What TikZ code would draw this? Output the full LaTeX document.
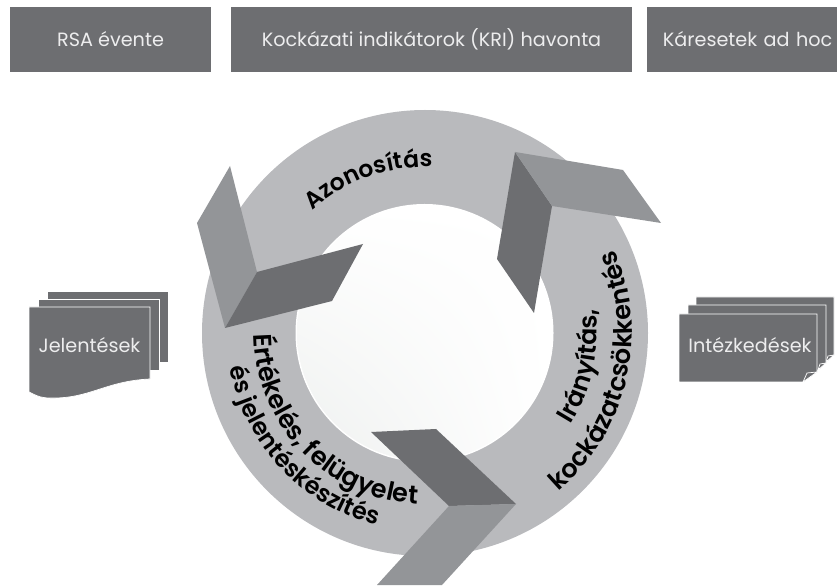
\documentclass[tikz,border=0pt]{standalone}
\usepackage{fontspec}
\setmainfont[BoldFont={Poppins SemiBold}]{Poppins}
\usetikzlibrary{decorations.text,shadings}

\definecolor{boxgray}{HTML}{6D6E71}
\definecolor{wallgray}{HTML}{939598}
\definecolor{ringgray}{HTML}{B9BABD}
\definecolor{textlight}{HTML}{EDEDEE}
\definecolor{discgray}{HTML}{EEF0EF}

\tikzset{
  head box/.style={fill=boxgray, text=textlight, minimum height=65*0.03cm, inner sep=0pt, font=\fontsize{16.4}{18}\selectfont},
  sheet/.style={fill=boxgray, draw=white, line width=0.6pt},
  sheet label/.style={text=textlight, inner sep=0pt, font=\fontsize{16.4}{18}\selectfont},
  dark side/.style={fill=boxgray},
  light side/.style={fill=wallgray},
  ring label/.style 2 args={decorate, decoration={text along path, text align=center, text={|\fontsize{#1}{24}\bfseries\selectfont|#2}}}
}

\begin{document}
\begin{tikzpicture}[x=0.03cm, y=0.03cm]
    \useasboundingbox (0,0) rectangle (837,585);

    % header boxes
    \node[head box, minimum width=201*0.03cm] (rsa) at (110.5,545.5) {RSA évente};
    \node[head box, minimum width=401*0.03cm] (kri) at (431.5,545.5) {Kockázati indikátorok (KRI) havonta};
    \node[head box, minimum width=190*0.03cm, text width=190*0.03cm, align=left] (kar) at (742,545.5) {\hspace{13.6pt}Káresetek ad hoc};

    % ring
    \fill[ringgray] (425,252) circle[radius=223];
    \fill[white] (424.5,252) circle[radius=129];
    \shade[lower left=discgray, upper right=white, upper left=white, lower right=white] (424.5,252) circle[radius=127.5];

    % arrows
    \fill[light side] (230,419) -- (197,362) -- (225,257) -- (257,313) -- cycle;
    \fill[dark side] (257,313) -- (363,341) -- (332,284) -- (225,257) -- cycle;
    \fill[dark side] (515,433) -- (497,326) -- (534,272) -- (552,379) -- cycle;
    \fill[light side] (515,433) -- (623,415) -- (661,362) -- (552,379) -- cycle;
    \fill[dark side] (371,153) -- (436,156) -- (516,81) -- (449,79) -- cycle;
    \fill[light side] (449,79) -- (516,81) -- (442,0) -- (377,0) -- cycle;

    % ring texts
    \path[ring label={20}{Azonosítás}] (425,252) ++(140:166) arc[start angle=140, end angle=80, radius=166];
    \path[ring label={21.5}{Irányítás,}] (425,252) ++(-40:172) arc[start angle=-40, end angle=16, radius=172];
    \path[ring label={21.8}{kockázatcsökkentés}] (425,252) ++(-62:207) arc[start angle=-62, end angle=36, radius=207];
    \path[ring label={21.8}{Értékelés, felügyelet}] (425,252) ++(168:171) arc[start angle=168, end angle=280, radius=171];
    \path[ring label={20.5}{és jelentéskészítés}] (425,252) ++(180:198) arc[start angle=180, end angle=266, radius=198];

    % report sheets
    \fill[sheet] (47,294) rectangle (168,223);
    \fill[sheet] (38,286) rectangle (159,215);
    \fill[sheet] (29,278) -- (150,278) -- (150,206) .. controls (105,204) and (90,186) .. (50,187) .. controls (40,187) and (35,190) .. (29,193) -- cycle;
    \node[sheet label] (rep) at (89.5,240) {Jelentések};

    % measure sheets
    \fill[sheet] (696,288) -- (834,288) -- (834,230) -- (826,223) -- (696,223) -- cycle;
    \fill[sheet, draw=white] (826,223) -- (828,229) -- (834,230) -- cycle;
    \fill[sheet] (688,280) -- (826,280) -- (826,222) -- (818,215) -- (688,215) -- cycle;
    \fill[sheet, draw=white] (818,215) -- (820,221) -- (826,222) -- cycle;
    \fill[sheet] (679,271) -- (817,271) -- (817,213) -- (803,203) -- (679,203) -- cycle;
    \fill[sheet, draw=white] (803,203) -- (807,212) -- (817,213) -- cycle;
    \node[sheet label] (act) at (750,240) {Intézkedések};
\end{tikzpicture}
\end{document}
